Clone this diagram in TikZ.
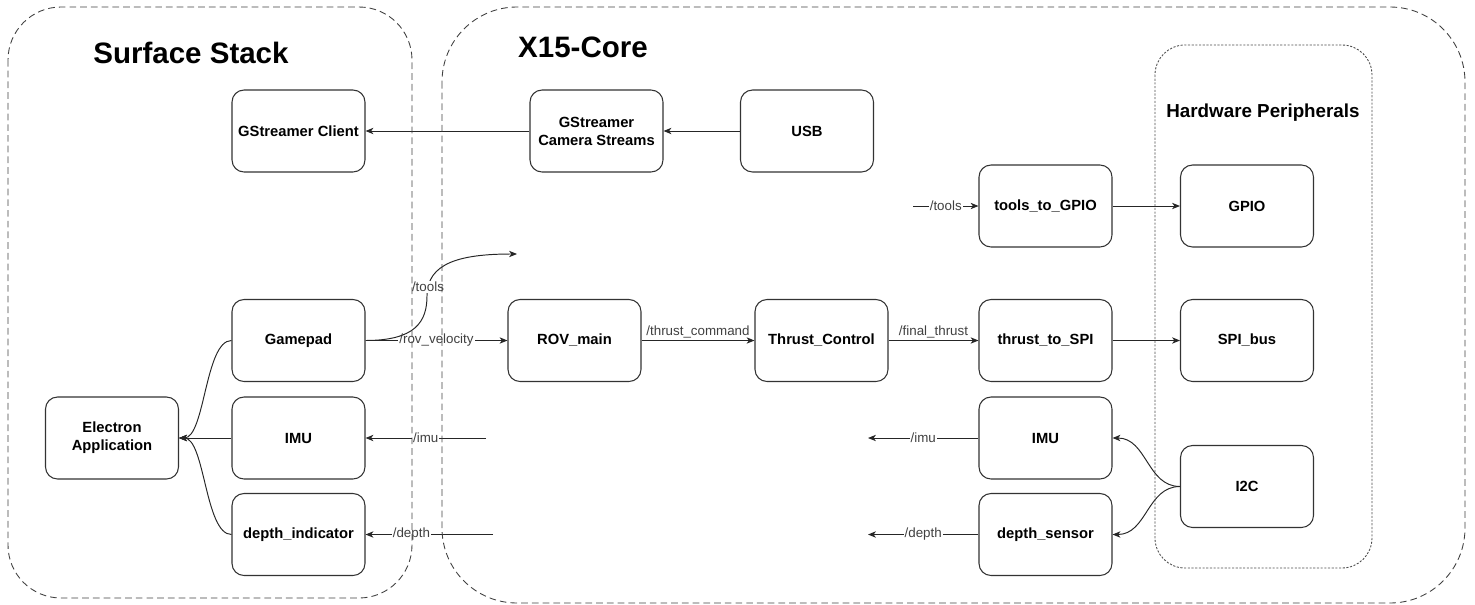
\documentclass[tikz,border=0pt]{standalone}
\usepackage{fontspec}
\setmainfont{Liberation Sans}
\usetikzlibrary{arrows.meta}
\begin{document}
\begin{tikzpicture}[x=0.02cm,y=-0.02cm,
  box/.style={draw=black!80, line width=0.6pt, fill=white, rounded corners=0.24cm,
    minimum width=2.66cm, minimum height=1.64cm, inner sep=0pt, align=center,
    font=\bfseries\fontsize{8.4}{10.2}\selectfont},
  edge/.style={draw=black!85, line width=0.55pt, -{Stealth[length=4.5pt,width=3.6pt,inset=1.3pt]}},
  plain/.style={draw=black!85, line width=0.55pt},
  lbl/.style={fill=white, inner sep=0.6pt, text=black!75, font=\fontsize{7.6}{9}\selectfont},
  lblabove/.style={inner sep=1pt, text=black!75, font=\fontsize{7.6}{9}\selectfont, above},
  container/.style={draw=black!75, line width=0.5pt, dash pattern=on 3.8pt off 2.3pt},
  hwcontainer/.style={draw=black!70, line width=0.5pt, dash pattern=on 1.2pt off 0.9pt, rounded corners=0.6cm},
  title/.style={font=\bfseries\fontsize{16.8}{20}\selectfont},
  subtitle/.style={font=\bfseries\fontsize{10.7}{13}\selectfont}
]
\useasboundingbox (0,0) rectangle (1475,605);

% nodes
\node[box] (gsc) at (298.5,131) {GStreamer Client};
\node[box] (gcs) at (596.5,131) {GStreamer\\Camera Streams};
\node[box] (usb) at (807,131) {USB};
\node[box] (t2g) at (1045.5,206) {tools\_to\_GPIO};
\node[box] (gpio) at (1247,206) {GPIO};
\node[box] (gamepad) at (298.5,340.5) {Gamepad};
\node[box] (rov) at (574.5,340.5) {ROV\_main};
\node[box] (tc) at (821.5,340.5) {Thrust\_Control};
\node[box] (t2s) at (1045.5,340.5) {thrust\_to\_SPI};
\node[box] (spi) at (1247,340.5) {SPI\_bus};
\node[box] (elec) at (112,438) {Electron\\Application};
\node[box] (imuL) at (298.5,438) {IMU};
\node[box] (dind) at (298.5,534.5) {depth\_indicator};
\node[box] (imuR) at (1045.5,438) {IMU};
\node[box] (dsen) at (1045.5,534.5) {depth\_sensor};
\node[box] (i2c) at (1247,486.5) {I2C};

% free ends
\coordinate (toolsEnd) at (517,254);
\coordinate (toolsIn) at (913,206);
\coordinate (imuIn) at (486,438);
\coordinate (depthIn) at (493,534.5);
\coordinate (imuOut) at (868,438);
\coordinate (depthOut) at (868,534.5);

% edges
\draw[edge] (usb.west) -- (gcs.east);
\draw[edge] (gcs.west) -- (gsc.east);
\draw[edge] (gamepad.east) -- node[lbl] {/rov\_velocity} (rov.west);
\draw[edge] (rov.east) -- node[lblabove] {/thrust\_command} (tc.west);
\draw[edge] (tc.east) -- node[lblabove] {/final\_thrust} (t2s.west);
\draw[edge] (t2s.east) -- (spi.west);
\draw[edge] (t2g.east) -- (gpio.west);
\draw[edge] (toolsIn) -- node[lbl] {/tools} (t2g.west);
\draw[edge] (imuR.west) -- node[lbl] {/imu} (imuOut);
\draw[edge] (dsen.west) -- node[lbl] {/depth} (depthOut);
\draw[edge] (imuIn) -- node[lbl] {/imu} (imuL.east);
\draw[edge] (depthIn) -- node[lbl, pos=0.64] {/depth} (dind.east);
\draw[edge] (gamepad.east) .. controls (415,340.5) and (427,322) .. (427,296)
   .. controls (427,263) and (460,254) .. node[lbl, pos=0.1] {/tools} (toolsEnd);
\draw[edge] (gamepad.west) .. controls (205,340.5) and (205,438) .. (elec.east);
\draw[edge] (imuL.west) -- (elec.east);
\draw[edge] (dind.west) .. controls (205,534.5) and (205,438) .. (elec.east);
\draw[edge] (i2c.west) .. controls (1147,486.5) and (1147,438) .. (imuR.east);
\draw[edge] (i2c.west) .. controls (1147,486.5) and (1147,534.5) .. (dsen.east);

% containers
\draw[container, rounded corners=1.06cm] (8,7) rectangle (412,598);
\draw[container, rounded corners=1.5cm] (442,7) rectangle (1465,603);
\draw[hwcontainer] (1155,45) rectangle (1372,568);

\node[title] (tSurface) at (191,53) {Surface Stack};
\node[title] (tCore) at (583,47) {X15-Core};
\node[subtitle] (tHW) at (1263,113) {Hardware Peripherals};
\end{tikzpicture}
\end{document}
